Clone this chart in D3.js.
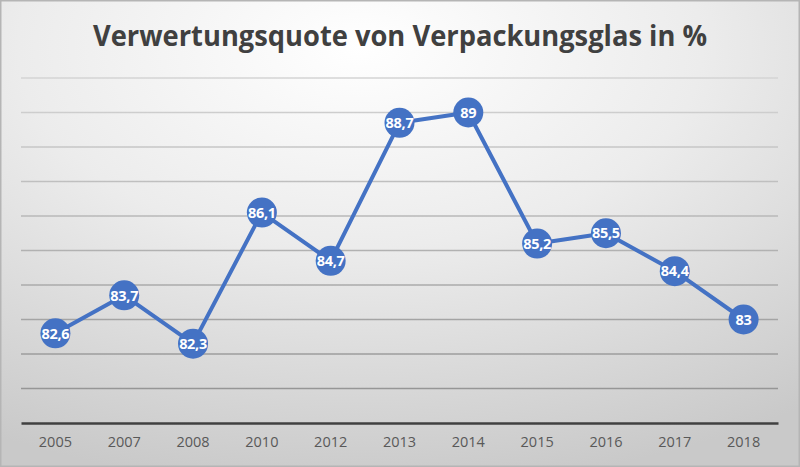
<!DOCTYPE html>
<html><head><meta charset="utf-8">
<script src="https://cdn.jsdelivr.net/npm/d3@7"></script>
<style>body{margin:0;background:#fff}svg{display:block}</style>
</head><body><svg id="c" width="800" height="467"></svg>
<script>
const years = ["2005","2007","2008","2010","2012","2013","2014","2015","2016","2017","2018"];
const quote = [82.6,83.7,82.3,86.1,84.7,88.7,89,85.2,85.5,84.4,83];
const labels = ["82,6","83,7","82,3","86,1","84,7","88,7","89","85,2","85,5","84,4","83"];
const yTicks = [80,81,82,83,84,85,86,87,88,89,90];
const title = "Verwertungsquote von Verpackungsglas in %";

const W=800,H=467, m={l:21,r:22,t:78,b:44};
const svg=d3.select("#c");
const defs=svg.append("defs");
const bg=defs.append("radialGradient").attr("id","bg").attr("cx","45%").attr("cy","10%").attr("r","95%")
  .attr("gradientUnits","objectBoundingBox");
bg.append("stop").attr("offset","0%").attr("stop-color","#ffffff");
bg.append("stop").attr("offset","45%").attr("stop-color","#ececec");
bg.append("stop").attr("offset","100%").attr("stop-color","#c9c9c9");
svg.append("rect").attr("x",0).attr("y",0).attr("width",W).attr("height",H).attr("fill","url(#bg)");
svg.append("rect").attr("x",0.75).attr("y",0.75).attr("width",W-1.5).attr("height",H-1.5)
  .attr("fill","none").attr("stroke","#b5b5b5").attr("stroke-width",1.5);

const x=d3.scaleBand().domain(years).range([m.l,W-m.r]);
const y=d3.scaleLinear().domain([80,90]).range([H-m.b,m.t]);

const gg=defs.append("linearGradient").attr("id","gl").attr("gradientUnits","userSpaceOnUse")
  .attr("x1",0).attr("y1",m.t).attr("x2",0).attr("y2",H-m.b);
gg.append("stop").attr("offset","0%").attr("stop-color","#d4d4d4");
gg.append("stop").attr("offset","100%").attr("stop-color","#8f8f8f");

svg.append("g").selectAll("line").data(yTicks.filter(d=>d>80)).join("line")
  .attr("x1",m.l).attr("x2",W-m.r).attr("y1",d=>y(d)).attr("y2",d=>y(d))
  .attr("stroke","url(#gl)").attr("stroke-width",1.3);

const xa=svg.append("g").attr("transform",`translate(0,${y(80)})`).call(d3.axisBottom(x).tickSize(0).tickPadding(14));
xa.select(".domain").attr("stroke","#404040").attr("stroke-width",2.5);
xa.selectAll("text").attr("fill","#595959").attr("font-size",14.5).attr("font-family","Open Sans, sans-serif");

svg.append("text").attr("x",400).attr("y",46).attr("text-anchor","middle")
  .attr("font-family","Open Sans, sans-serif").attr("font-weight","bold").attr("font-size",28)
  .attr("fill","#404040").attr("textLength",614).attr("lengthAdjust","spacingAndGlyphs").text(title);

const data=years.map((d,i)=>({year:d,v:quote[i],lab:labels[i]}));
const cx=d=>x(d.year)+x.bandwidth()/2;
svg.append("path").datum(data).attr("fill","none").attr("stroke","#4472C4").attr("stroke-width",4)
  .attr("stroke-linejoin","round")
  .attr("d",d3.line().x(cx).y(d=>y(d.v)));
svg.append("g").selectAll("circle").data(data).join("circle")
  .attr("cx",cx).attr("cy",d=>y(d.v)).attr("r",15).attr("fill","#4472C4");
svg.append("g").selectAll("text").data(data).join("text")
  .attr("x",cx).attr("y",d=>y(d.v)).attr("dy","0.36em").attr("text-anchor","middle")
  .attr("font-family","Open Sans, sans-serif").attr("font-weight","bold").attr("font-size",14.5)
  .attr("fill","#fff").attr("letter-spacing","-0.3").text(d=>d.lab);
</script></body></html>
